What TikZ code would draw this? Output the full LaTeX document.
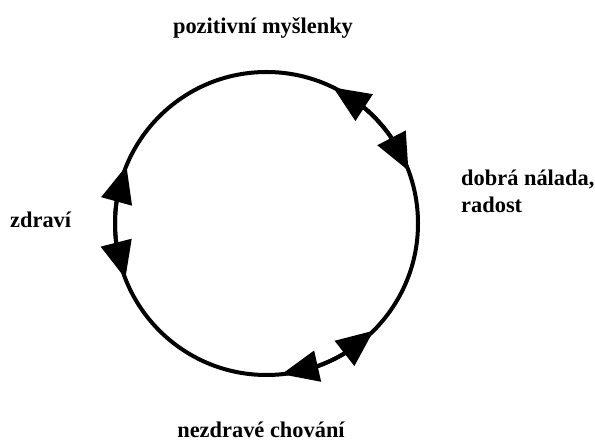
\documentclass[tikz,border=0pt]{standalone}
\usepackage{fontspec}
\setmainfont{Liberation Serif}
\usetikzlibrary{arrows.meta,bending,calc}
\tikzset{
  ring/.style={line width=4pt},
  twotip/.style={line width=4pt,{Triangle[length=37pt,width=31pt,flex]}-{Triangle[length=37pt,width=31pt,flex]}},
  lbl/.style={inner sep=0pt,font=\fontsize{22.4}{27}\selectfont\bfseries}
}
\begin{document}
\begin{tikzpicture}[x=1pt,y=1pt]
\useasboundingbox (0,0) rectangle (595,444);
\coordinate (c) at (266.5,220.5);
\draw[ring] (c) circle[radius=151.5pt];
\draw[twotip] ($(c)+(63.9:151.5pt)$) arc[start angle=63.9,end angle=20.4,radius=151.5pt];
\draw[twotip] ($(c)+(157.6:151.5pt)$) arc[start angle=157.6,end angle=201.3,radius=151.5pt];
\draw[twotip] ($(c)+(-45:151.5pt)$) arc[start angle=-45,end angle=-84.3,radius=151.5pt];
\node[lbl,anchor=base] (top) at (263,410) {pozitivní myšlenky};
\node[lbl,anchor=base west] (left) at (10,216) {zdraví};
\node[lbl,anchor=base west,align=left] (right) at (461,231) {dobrá nálada,\\radost};
\node[lbl,anchor=base] (bottom) at (261,6.5) {nezdravé chování};
\end{tikzpicture}
\end{document}
